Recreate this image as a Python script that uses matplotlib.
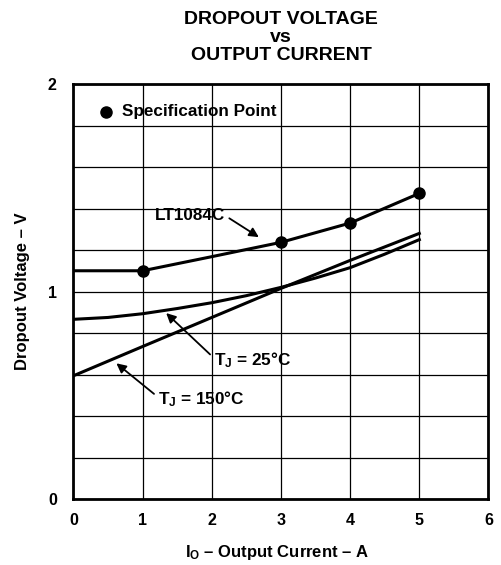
import numpy as np
import matplotlib
matplotlib.use("Agg")
import matplotlib.pyplot as plt
from matplotlib.ticker import MultipleLocator

plt.rcParams['font.family'] = ['Liberation Sans', 'DejaVu Sans']
plt.rcParams['font.weight'] = 'bold'
plt.rcParams['axes.labelweight'] = 'bold'
plt.rcParams['mathtext.fontset'] = 'custom'
plt.rcParams['mathtext.rm'] = 'Liberation Sans:bold'
plt.rcParams['mathtext.bf'] = 'Liberation Sans:bold'
plt.rcParams['mathtext.it'] = 'Liberation Sans:bold'

# curves
i_lt = [0, 1, 2, 3, 4, 5]
v_lt = [1.10, 1.10, 1.168, 1.237, 1.33, 1.473]

i_spec = [1, 3, 4, 5]
v_spec = [1.10, 1.237, 1.33, 1.473]

i_25 = [0, 0.5, 1, 1.5, 2, 2.5, 3, 3.5, 4, 4.5, 5]
v_25 = [0.866, 0.875, 0.893, 0.918, 0.946, 0.98, 1.02, 1.065, 1.115, 1.18, 1.25]

i_150 = [0, 1, 2, 3, 4, 5]
v_150 = [0.594, 0.735, 0.875, 1.015, 1.15, 1.28]

x_ticks = [0, 1, 2, 3, 4, 5, 6]
y_ticks = [0, 1, 2]

fig = plt.figure(figsize=(5.01, 5.65), dpi=100)
ax = fig.add_axes([0.1467, 0.1168, 0.8283, 0.7345])

ax.plot(i_lt, v_lt, color='black', lw=2.2, zorder=3)
ax.plot(i_spec, v_spec, 'o', color='black', ms=8, zorder=4)
ax.plot(i_25, v_25, color='black', lw=2.2, zorder=3)
ax.plot(i_150, v_150, color='black', lw=2.2, zorder=3)

ax.set_xlim(0, 6)
ax.set_ylim(0, 2)
ax.set_xticks(x_ticks)
ax.set_yticks(y_ticks)
ax.yaxis.set_minor_locator(MultipleLocator(0.2))
ax.grid(which='both', color='black', lw=0.9)
ax.tick_params(which='both', length=0, labelsize=11.5, pad=10)
ax.tick_params(axis='y', pad=12)
for s in ax.spines.values():
    s.set_linewidth(2)

# legend-like note
ax.plot([0.47], [1.867], 'o', color='black', ms=8, clip_on=False)
ax.text(0.70, 1.867, 'Specification Point', fontsize=12.3, va='center', ha='left')

arr = dict(arrowstyle='-|>', color='black', lw=1.3, mutation_scale=14)
ax.annotate('LT1084C', xy=(2.68, 1.262), xytext=(1.18, 1.365),
            fontsize=12.3, va='center', ha='left',
            arrowprops=dict(arr, shrinkA=1, shrinkB=0, relpos=(1, 0.5)))
ax.annotate(r'T$_J$ = 25°C', xy=(1.34, 0.896), xytext=(2.03, 0.67),
            fontsize=12.3, va='center', ha='left',
            arrowprops=dict(arr, shrinkA=1, shrinkB=0, relpos=(0, 0.6)))
ax.annotate(r'T$_J$ = 150°C', xy=(0.62, 0.654), xytext=(1.22, 0.482),
            fontsize=12.3, va='center', ha='left',
            arrowprops=dict(arr, shrinkA=1, shrinkB=0, relpos=(0, 0.6)))

ax.set_xlabel(r'I$_O$ – Output Current – A', fontsize=12)
ax.set_ylabel('Dropout Voltage – V', fontsize=12)
ax.xaxis.set_label_coords(0.49, -0.105)
ax.yaxis.set_label_coords(-0.105, 0.5)

fig.text(0.561, 0.933, 'DROPOUT VOLTAGE\nvs\nOUTPUT CURRENT', ha='center',
         va='center', fontsize=14, linespacing=1.08)

fig.savefig('out.png', dpi=100)
